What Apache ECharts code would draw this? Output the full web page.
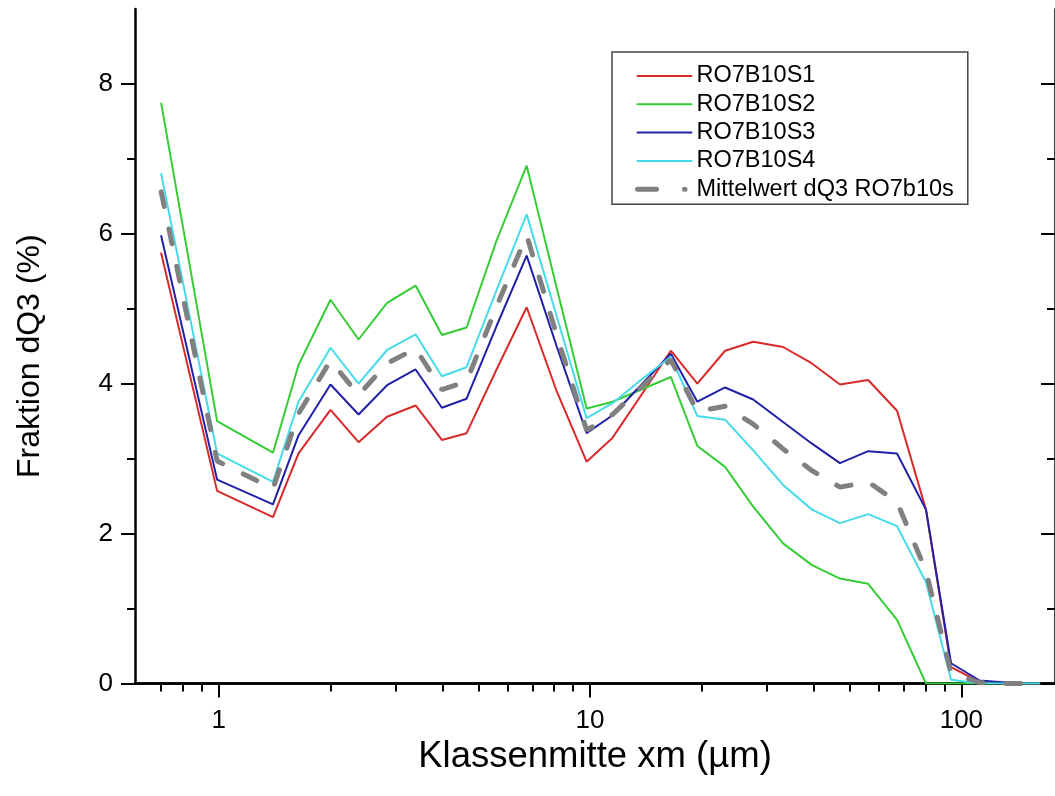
<!DOCTYPE html>
<html><head><meta charset="utf-8">
<script src="https://cdn.jsdelivr.net/npm/echarts@6/dist/echarts.min.js"></script>
<style>html,body{margin:0;padding:0;background:#fff}#c{width:1055px;height:796px}</style>
</head><body><div id="c"></div>
<script>
const xm = [0.70, 0.99, 1.40, 1.64, 2.00, 2.38, 2.84, 3.39, 3.99, 4.65, 5.60, 6.75, 8.13, 9.79, 11.5, 13.7, 16.5, 19.45, 23.1, 27.5, 33.1, 39.6, 47.1, 56.1, 67.1, 80.3, 93.8, 112, 134, 162];
const s1 = [5.74, 2.57, 2.22, 3.07, 3.65, 3.22, 3.56, 3.71, 3.25, 3.34, 4.19, 5.02, 3.90, 2.96, 3.28, 3.84, 4.44, 4.00, 4.44, 4.56, 4.49, 4.27, 3.99, 4.05, 3.64, 2.32, 0.22, 0.02, 0, 0];
const s2 = [7.74, 3.50, 3.08, 4.25, 5.12, 4.59, 5.08, 5.31, 4.65, 4.75, 5.91, 6.91, 5.28, 3.67, 3.76, 3.92, 4.09, 3.17, 2.89, 2.36, 1.87, 1.58, 1.40, 1.33, 0.85, 0.00, 0, 0, 0, 0];
const s3 = [5.97, 2.72, 2.39, 3.31, 3.99, 3.59, 3.98, 4.19, 3.68, 3.80, 4.77, 5.71, 4.50, 3.34, 3.58, 3.98, 4.40, 3.76, 3.95, 3.79, 3.49, 3.20, 2.94, 3.10, 3.07, 2.32, 0.27, 0.04, 0.01, 0];
const s4 = [6.80, 3.07, 2.69, 3.76, 4.48, 4.00, 4.45, 4.66, 4.10, 4.22, 5.25, 6.26, 4.90, 3.54, 3.74, 4.05, 4.36, 3.57, 3.52, 3.11, 2.65, 2.32, 2.14, 2.26, 2.10, 1.35, 0.05, 0, 0, 0];
const mean = [6.56, 2.97, 2.60, 3.60, 4.31, 3.85, 4.27, 4.47, 3.92, 4.03, 5.03, 5.98, 4.65, 3.38, 3.59, 3.95, 4.32, 3.63, 3.70, 3.46, 3.13, 2.84, 2.62, 2.69, 2.42, 1.50, 0.14, 0.01, 0, 0];
const seriesNames = ['RO7B10S1', 'RO7B10S2', 'RO7B10S3', 'RO7B10S4', 'Mittelwert dQ3 RO7b10s'];
const xMajorTicks = [1, 10, 100];
const xMinorTicks = [0.7, 0.8, 0.9, 2, 3, 4, 5, 6, 7, 8, 9, 20, 30, 40, 50, 60, 70, 80, 90];
const yMajorTicks = [0, 2, 4, 6, 8];
const yMinorTicks = [1, 3, 5, 7];
const xTitle = 'Klassenmitte xm (µm)';
const yTitle = 'Fraktion dQ3 (%)';

const FONT = '"Liberation Sans", Arial, sans-serif';
const values = [s1, s2, s3, s4, mean];
const colors = ['#d92a2a', '#36cc36', '#2020a8', '#45dbe8', '#808080'];
const widths = [2, 2, 2, 2, 5];
const XMIN = 0.595, XMAX = 178.7;
const gridBox = {left: 135, top: 9, width: 921, height: 674.5};

function xAx(grid, pos, major) {
  return {
    type: 'log', logBase: 10, gridIndex: grid, position: pos, min: XMIN, max: XMAX,
    axisLine: {show: major, lineStyle: {color: '#000', width: 2.5}},
    axisTick: {show: true, inside: pos === 'top', length: major ? 14 : 8,
      customValues: major ? xMajorTicks : xMinorTicks, lineStyle: {color: '#000', width: 2}},
    axisLabel: {show: major && pos === 'bottom', customValues: xMajorTicks, fontSize: 26, color: '#000',
      fontFamily: FONT, margin: 24, formatter: v => String(v)},
    splitLine: {show: false}, minorTick: {show: false},
    name: (major && pos === 'bottom') ? xTitle : '', nameLocation: 'middle', nameGap: 47,
    nameTextStyle: {fontSize: 36.5, color: '#000', fontFamily: FONT}
  };
}
function yAx(grid, pos, major) {
  return {
    type: 'value', gridIndex: grid, position: pos, min: 0, max: 9,
    axisLine: {show: major, lineStyle: {color: '#000', width: 2.5}},
    axisTick: {show: true, inside: pos === 'right', length: major ? 14 : 8,
      customValues: major ? yMajorTicks : yMinorTicks, lineStyle: {color: '#000', width: 2}},
    axisLabel: {show: major && pos === 'left', customValues: yMajorTicks, fontSize: 26, color: '#000',
      fontFamily: FONT, margin: 22},
    splitLine: {show: false},
    name: (major && pos === 'left') ? yTitle : '', nameLocation: 'middle', nameGap: 89,
    nameTextStyle: {fontSize: 32, color: '#000', fontFamily: FONT, padding: [0, 20, 0, 0]}
  };
}

const chart = echarts.init(document.getElementById('c'), null, {renderer: 'canvas'});
chart.setOption({
  animation: false,
  backgroundColor: '#fff',
  grid: [Object.assign({}, gridBox), Object.assign({}, gridBox)],
  xAxis: [xAx(0, 'bottom', true), xAx(0, 'top', true), xAx(1, 'bottom', false), xAx(1, 'top', false)],
  yAxis: [yAx(0, 'left', true), yAx(0, 'right', true), yAx(1, 'left', false), yAx(1, 'right', false)],
  legend: {
    orient: 'vertical', left: 612, top: 52, padding: [12, 14, 3, 23],
    itemWidth: 54, itemHeight: 14, itemGap: 4.3,
    borderColor: '#444', borderWidth: 1.5, backgroundColor: '#fff',
    itemStyle: {opacity: 0, color: 'rgba(0,0,0,0)', borderWidth: 0},
    textStyle: {fontSize: 23.5, lineHeight: 22, color: '#000', fontFamily: FONT},
    data: seriesNames.map((n, i) => i === 4
      ? {name: n, lineStyle: {type: [19, 28, 0.5, 30], cap: 'round', width: 5}}
      : {name: n})
  },
  series: seriesNames.map((n, i) => ({
    type: 'line', name: n, xAxisIndex: 0, yAxisIndex: 0,
    data: xm.map((x, j) => [x, values[i][j]]),
    symbol: 'none', showSymbol: false, z: 2 + i,
    lineStyle: {color: colors[i], width: widths[i], type: i === 4 ? [15, 23] : 'solid', cap: 'round'},
    itemStyle: {color: colors[i]}
  }))
});
</script></body></html>
